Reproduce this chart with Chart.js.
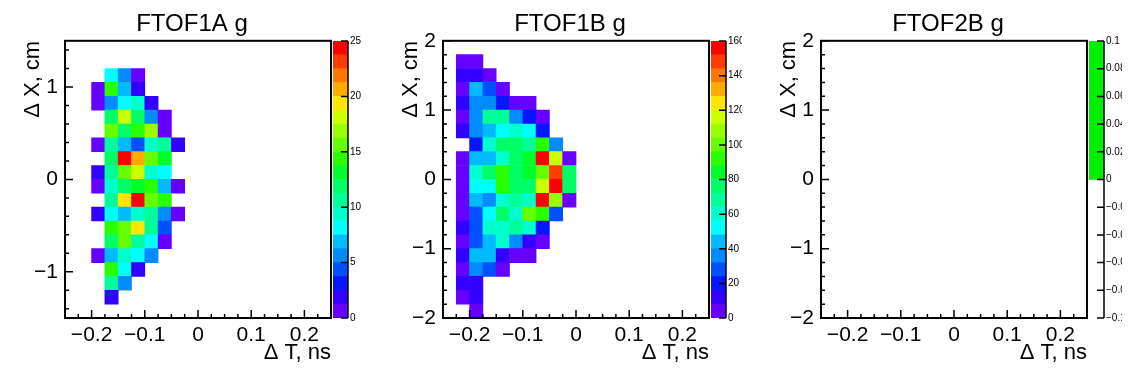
<!DOCTYPE html>
<html lang="en">
<head>
<meta charset="UTF-8" />
<title>FTOF g residuals</title>
<script src="https://cdn.jsdelivr.net/npm/chart.js@4"></script>
<style>
  body { margin: 0; background: #fff; }
  #page { position: relative; width: 1134px; height: 378px; overflow: hidden; }
  #page canvas { position: absolute; top: 0; }
</style>
</head>
<body>
<div id="page">
  <canvas id="main1" width="384" height="378" style="left:0px"></canvas>
  <canvas id="main2" width="384" height="378" style="left:378px"></canvas>
  <canvas id="main3" width="384" height="378" style="left:756px"></canvas>
  <canvas id="pal1" width="31" height="378" style="left:333px"></canvas>
  <canvas id="pal2" width="31" height="378" style="left:711px"></canvas>
  <canvas id="pal3" width="33" height="378" style="left:1089px"></canvas>
</div>

<script>
  const panelTitles = ['FTOF1A g', 'FTOF1B g', 'FTOF2B g'];
  const xTitle = '\u0394 T, ns';
  const yTitle = '\u0394 X, cm';
  const tRange = [-0.25, 0.25];
  const tTicks = [-0.2, -0.1, 0, 0.1, 0.2];

  // FTOF1A: dT bin centres (ns), dX bin centres (cm), counts, rows top -> bottom
  const ftof1aT = [-0.1875, -0.1625, -0.1375, -0.1125, -0.0875, -0.0625, -0.0375];
  const ftof1aX = [1.125, 0.975, 0.825, 0.675, 0.525, 0.375, 0.225, 0.075, -0.075,
                   -0.225, -0.375, -0.525, -0.675, -0.825, -0.975, -1.125, -1.275];
  const ftof1aDX = 0.15;
  const ftof1aRange = [-1.5, 1.5];
  const ftof1aTicks = [-1, 0, 1];
  const ftof1aZmax = 25;
  const ftof1aCounts = [
    [0, 8, 6, 1, 0, 0, 0],
    [1, 14, 7, 2, 0, 0, 0],
    [1, 6, 8, 9, 2, 0, 0],
    [0, 12, 18, 12, 6, 1, 0],
    [0, 16, 12, 14, 17, 1, 0],
    [1, 11, 7, 4, 9, 11, 2],
    [0, 12, 24, 21, 16, 13, 0],
    [2, 11, 16, 18, 9, 8, 0],
    [1, 9, 12, 13, 14, 7, 1],
    [0, 11, 19, 24, 16, 14, 0],
    [2, 8, 7, 9, 11, 6, 1],
    [0, 14, 16, 19, 11, 4, 0],
    [0, 12, 16, 11, 8, 1, 0],
    [1, 7, 9, 8, 6, 0, 0],
    [0, 14, 8, 2, 0, 0, 0],
    [0, 11, 6, 0, 0, 0, 0],
    [0, 2, 0, 0, 0, 0, 0]
  ];

  // FTOF1B
  const ftof1bT = [-0.2125, -0.1875, -0.1625, -0.1375, -0.1125, -0.0875, -0.0625, -0.0375, -0.0125];
  const ftof1bX = [1.7, 1.5, 1.3, 1.1, 0.9, 0.7, 0.5, 0.3, 0.1, -0.1,
                   -0.3, -0.5, -0.7, -0.9, -1.1, -1.3, -1.5, -1.7, -1.9];
  const ftof1bDX = 0.2;
  const ftof1bRange = [-2, 2];
  const ftof1bTicks = [-2, -1, 0, 1, 2];
  const ftof1bZmax = 160;
  const ftof1bCounts = [
    [5, 4, 0, 0, 0, 0, 0, 0, 0],
    [12, 13, 3, 0, 0, 0, 0, 0, 0],
    [5, 45, 27, 4, 0, 0, 0, 0, 0],
    [11, 36, 37, 19, 5, 4, 0, 0, 0],
    [4, 35, 69, 68, 36, 20, 5, 0, 0],
    [12, 36, 44, 53, 61, 52, 19, 0, 0],
    [0, 20, 60, 75, 77, 68, 92, 36, 0],
    [5, 44, 45, 60, 76, 84, 157, 117, 4],
    [4, 61, 76, 91, 77, 84, 100, 148, 76],
    [5, 52, 53, 92, 76, 75, 116, 156, 77],
    [4, 44, 36, 60, 68, 59, 157, 108, 5],
    [4, 27, 52, 77, 60, 100, 92, 28, 0],
    [12, 28, 61, 60, 68, 59, 20, 0, 0],
    [4, 28, 44, 61, 36, 12, 5, 0, 0],
    [12, 45, 44, 12, 4, 5, 0, 0, 0],
    [5, 36, 28, 4, 0, 0, 0, 0, 0],
    [12, 13, 0, 0, 0, 0, 0, 0, 0],
    [4, 12, 0, 0, 0, 0, 0, 0, 0],
    [0, 4, 0, 0, 0, 0, 0, 0, 0]
  ];

  // FTOF2B: empty histogram
  const ftof2bRange = [-2, 2];
  const ftof2bTicks = [-2, -1, 0, 1, 2];
  const ftof2bZ = [-0.1, 0.1];

  // 20 contour colours, low -> high
  const palette = ['#6600ff', '#3300ff', '#0516ff', '#0050ff', '#008cff', '#00bcff', '#00ffff',
                   '#00ffcc', '#00ff99', '#00ff66', '#00ff2a', '#2aff00', '#66ff00', '#99ff00',
                   '#ccff00', '#ffe600', '#ffaa00', '#ff7700', '#ff3c00', '#ff0000'];
  const emptyColour = '#00ee00';

  const FONT = "'Liberation Sans', Arial, sans-serif";
  const fmt = v => String(Math.round(v * 1000) / 1000).replace('-', '\u2212');

  function cells(tC, xC, dx, counts) {
    const out = [];
    counts.forEach((row, r) => row.forEach((n, c) => {
      if (n > 0) out.push({ x: tC[c], y: [xC[r] - dx / 2, xC[r] + dx / 2], n: n });
    }));
    return out;
  }

  function colourFor(n, zmax) {
    const k = Math.min(palette.length - 1, Math.floor(n / zmax * palette.length));
    return palette[k];
  }

  // ROOT-like frame with inward ticks
  const rootFrame = {
    id: 'rootFrame',
    afterDraw(chart) {
      const { ctx, chartArea: a, scales: { x, y } } = chart;
      ctx.save();
      ctx.strokeStyle = '#000';
      ctx.lineWidth = 1.5;
      ctx.beginPath();
      for (let i = -10; i <= 10; i++) {
        const px = x.getPixelForValue(i * 0.025);
        const len = i % 4 === 0 ? 8 : 4;
        ctx.moveTo(px, a.bottom);
        ctx.lineTo(px, a.bottom - len);
      }
      for (let i = Math.ceil(y.min / 0.2 - 1e-6); i <= Math.floor(y.max / 0.2 + 1e-6); i++) {
        const py = y.getPixelForValue(i * 0.2);
        const len = i % 5 === 0 ? 8 : 4;
        ctx.moveTo(a.left, py);
        ctx.lineTo(a.left + len, py);
      }
      ctx.stroke();
      ctx.lineWidth = 2;
      ctx.strokeRect(a.left, a.top, a.right - a.left, a.bottom - a.top);
      ctx.restore();
    }
  };

  const paletteAxis = {
    id: 'paletteAxis',
    afterDraw(chart) {
      const { ctx, chartArea: a, scales: { y } } = chart;
      ctx.save();
      ctx.strokeStyle = '#000';
      ctx.lineWidth = 1.5;
      ctx.beginPath();
      y.ticks.forEach(t => {
        const py = y.getPixelForValue(t.value);
        ctx.moveTo(a.right - 7, py);
        ctx.lineTo(a.right, py);
      });
      ctx.moveTo(a.right, a.top);
      ctx.lineTo(a.right, a.bottom);
      ctx.stroke();
      ctx.restore();
    }
  };

  const fixTicks = values => s => { s.ticks = values.map(v => ({ value: v })); };

  function mainChart(id, title, yRange, yTicks, data, zmax) {
    return new Chart(document.getElementById(id), {
      type: 'bar',
      data: {
        datasets: [{
          data: data,
          backgroundColor: c => (c.raw ? colourFor(c.raw.n, zmax) : '#fff'),
          borderWidth: 0,
          categoryPercentage: 1,
          barPercentage: 1
        }]
      },
      options: {
        responsive: false,
        animation: false,
        events: [],
        plugins: {
          legend: { display: false },
          tooltip: { enabled: false },
          title: {
            display: true, text: title, color: '#000',
            font: { family: FONT, size: 24, weight: 'normal' },
            padding: { top: 10, bottom: 2 }
          }
        },
        scales: {
          x: {
            type: 'linear', min: tRange[0], max: tRange[1], offset: false,
            grid: { display: false, drawTicks: false, offset: false },
            border: { display: false },
            afterBuildTicks: fixTicks(tTicks),
            ticks: {
              autoSkip: false, maxRotation: 0,
              padding: 5, color: '#000', font: { family: FONT, size: 21 }, callback: fmt
            },
            title: {
              display: true, text: xTitle, align: 'end', color: '#000',
              font: { family: FONT, size: 22 }, padding: { top: 0, bottom: 12 }
            },
            afterFit: s => { s.height = 60; }
          },
          y: {
            type: 'linear', min: yRange[0], max: yRange[1],
            grid: { display: false, drawTicks: false },
            border: { display: false },
            afterBuildTicks: fixTicks(yTicks),
            ticks: {
              padding: 7, color: '#000',
              font: { family: FONT, size: 21 }, callback: fmt
            },
            title: {
              display: true, text: yTitle, align: 'end', color: '#000',
              font: { family: FONT, size: 22 }, padding: { top: 20, bottom: 0 }
            },
            afterFit: s => { s.width = 65; }
          },
          spacer: {
            type: 'linear', position: 'right', min: 0, max: 1,
            grid: { display: false, drawTicks: false },
            border: { display: false },
            ticks: { display: false },
            afterFit: s => { s.width = 53; }
          }
        }
      },
      plugins: [rootFrame]
    });
  }

  function paletteChart(id, zRange, step, bands) {
    const canvas = document.getElementById(id);
    return new Chart(canvas, {
      type: 'bar',
      data: {
        labels: [''],
        datasets: bands.map(b => ({
          data: [[b.from, b.to]],
          backgroundColor: b.colour,
          borderWidth: 0,
          grouped: false,
          categoryPercentage: 1,
          barPercentage: 1
        }))
      },
      options: {
        responsive: false,
        animation: false,
        events: [],
        layout: { padding: { top: 41, bottom: 60 } },
        plugins: { legend: { display: false }, tooltip: { enabled: false } },
        scales: {
          x: { display: false },
          y: {
            position: 'right', min: zRange[0], max: zRange[1],
            grid: { display: false, drawTicks: false },
            border: { display: false },
            ticks: {
              stepSize: step, autoSkip: false, padding: 2, color: '#000',
              font: { family: FONT, size: 10 }, callback: fmt
            },
            // palette strip is 15px wide, the rest of the canvas holds the labels
            afterFit: s => { s.width = canvas.width - 15; }
          }
        }
      },
      plugins: [paletteAxis]
    });
  }

  function contourBands(zmax) {
    const d = zmax / palette.length;
    return palette.map((c, k) => ({ from: k * d, to: (k + 1) * d, colour: c }));
  }

  mainChart('main1', panelTitles[0], ftof1aRange, ftof1aTicks, cells(ftof1aT, ftof1aX, ftof1aDX, ftof1aCounts), ftof1aZmax);
  mainChart('main2', panelTitles[1], ftof1bRange, ftof1bTicks, cells(ftof1bT, ftof1bX, ftof1bDX, ftof1bCounts), ftof1bZmax);
  mainChart('main3', panelTitles[2], ftof2bRange, ftof2bTicks, [], 1);

  paletteChart('pal1', [0, ftof1aZmax], 5, contourBands(ftof1aZmax));
  paletteChart('pal2', [0, ftof1bZmax], 20, contourBands(ftof1bZmax));
  paletteChart('pal3', ftof2bZ, 0.02, [{ from: 0, to: ftof2bZ[1], colour: emptyColour }]);
</script>
</body>
</html>
